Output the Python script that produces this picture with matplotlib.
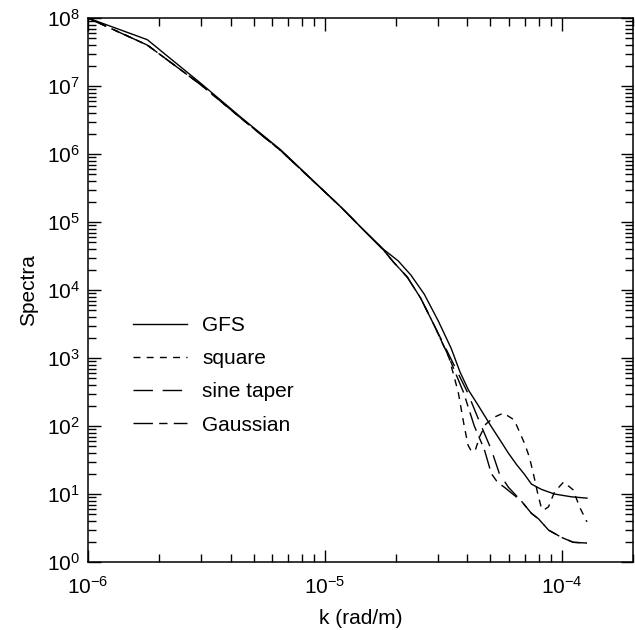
import matplotlib
matplotlib.use("Agg")
import matplotlib.pyplot as plt
from matplotlib.ticker import LogLocator, NullFormatter

plt.rcParams.update({
    "font.family": ["Liberation Sans", "DejaVu Sans"],
    "font.size": 15,
    "mathtext.fontset": "custom",
    "mathtext.rm": "Liberation Sans",
    "mathtext.it": "Liberation Sans:italic",
    "mathtext.bf": "Liberation Sans:bold",
})

# ─── DATA ──────────────────────────────────────────────────────────────────
# shared low-k part
k_head = [1.0e-6, 1.78e-6, 2.99e-6, 4.41e-6, 6.52e-6, 1.17e-5, 1.46e-5, 1.78e-5]
gfs_head = [1e8, 4.8e7, 1.1e7, 3.5e6, 1.15e6, 1.66e5, 7.6e4, 3.9e4]
taper_head = [1e8, 4.0e7, 1.05e7, 3.4e6, 1.12e6, 1.66e5, 7.6e4, 3.8e4]

# GFS tail
k_gfs = [2.04e-5, 2.31e-5, 2.63e-5, 3.02e-5, 3.42e-5, 3.72e-5, 4.04e-5, 4.45e-5,
         5.05e-5, 5.5e-5, 5.96e-5, 6.46e-5, 6.97e-5, 7.46e-5, 8.22e-5, 9.33e-5,
         1.10e-4, 1.28e-4]
s_gfs = [2.69e4, 1.66e4, 8.7e3, 3.47e3, 1.38e3, 630, 340, 200,
         98, 62, 40, 27, 19.5, 14, 11.7, 10,
         9.1, 8.7]

# part common to the three tapered spectra
k_mid = [1.94e-5, 2.23e-5, 2.54e-5, 2.88e-5]
s_mid = [2.63e4, 1.55e4, 7.6e3, 3.16e3]

# square window
k_sq = [3.24e-5, 3.35e-5, 3.66e-5, 3.88e-5, 4.03e-5, 4.17e-5, 4.32e-5, 4.52e-5,
        4.79e-5, 5.2e-5, 5.68e-5, 6.31e-5, 6.97e-5, 7.31e-5, 7.6e-5, 7.94e-5,
        8.22e-5, 8.41e-5, 8.81e-5, 9.33e-5, 1.02e-4, 1.12e-4, 1.19e-4, 1.28e-4]
s_sq = [1.3e3, 1.0e3, 316, 100, 52, 42, 44, 71,
        107, 135, 155, 123, 56, 35, 20, 10,
        6.2, 5.8, 6.5, 10.7, 15, 11.5, 6.5, 3.9]

# sine taper
k_sine = [3.31e-5, 4.0e-5, 4.58e-5, 5.05e-5, 5.46e-5, 5.96e-5]
s_sine = [1.2e3, 316, 100, 45, 20, 12.6]

# Gaussian
k_gauss = [3.31e-5, 3.85e-5, 4.28e-5, 4.72e-5, 5.05e-5, 5.37e-5, 5.73e-5]
s_gauss = [1.12e3, 316, 100, 45, 20, 14.8, 12.6]

# tail shared by sine taper and Gaussian
k_tail = [6.76e-5, 7.46e-5, 8.0e-5, 8.81e-5, 1.0e-4, 1.12e-4, 1.28e-4]
s_tail = [7.9, 5.2, 4.3, 2.95, 2.3, 1.95, 1.9]

x_ticks = [1e-6, 1e-5, 1e-4]
y_ticks = [1e0, 1e1, 1e2, 1e3, 1e4, 1e5, 1e6, 1e7, 1e8]

series = [
    ("GFS", k_head + k_gfs, gfs_head + s_gfs, "-"),
    ("square", k_head + k_mid + k_sq, taper_head + s_mid + s_sq, (0, (5, 4.5))),
    ("sine taper", k_head + k_mid + k_sine + k_tail,
     taper_head + s_mid + s_sine + s_tail, (0, (14, 7))),
    ("Gaussian", k_head + k_mid + k_gauss + k_tail,
     taper_head + s_mid + s_gauss + s_tail, (0, (14, 4.5, 6, 4.5))),
]

# ─── PLOT ──────────────────────────────────────────────────────────────────
fig = plt.figure(figsize=(6.35, 6.3), dpi=100)
ax = fig.add_axes([0.1386, 0.1079, 0.858, 0.8635])

for label, k, s, ls in series:
    ax.plot(k, s, color="black", lw=1.0, linestyle=ls, label=label)

ax.set_xscale("log")
ax.set_yscale("log")
ax.set_xlim(1e-6, 2e-4)
ax.set_ylim(1, 1e8)

ax.set_xticks(x_ticks)
ax.set_yticks(y_ticks)
ax.xaxis.set_minor_locator(LogLocator(base=10, subs=range(2, 10), numticks=20))
ax.yaxis.set_minor_locator(LogLocator(base=10, subs=range(2, 10), numticks=20))
ax.xaxis.set_minor_formatter(NullFormatter())
ax.yaxis.set_minor_formatter(NullFormatter())

ax.tick_params(which="both", direction="in", top=True, right=True, width=1.0)
ax.tick_params(which="major", length=9)
ax.tick_params(which="minor", length=6)
ax.tick_params(axis="x", which="major", pad=10)
ax.tick_params(axis="y", which="major", pad=6)
for sp in ax.spines.values():
    sp.set_linewidth(1.1)

ax.set_xlabel("k (rad/m)", labelpad=8)
ax.set_ylabel("Spectra", labelpad=6)

ax.legend(loc="upper left", bbox_to_anchor=(0.083, 0.452), frameon=False,
          borderpad=0, borderaxespad=0, handlelength=2.6, handletextpad=0.7,
          labelspacing=0.68, fontsize=15)

fig.savefig("out.png", dpi=100)
